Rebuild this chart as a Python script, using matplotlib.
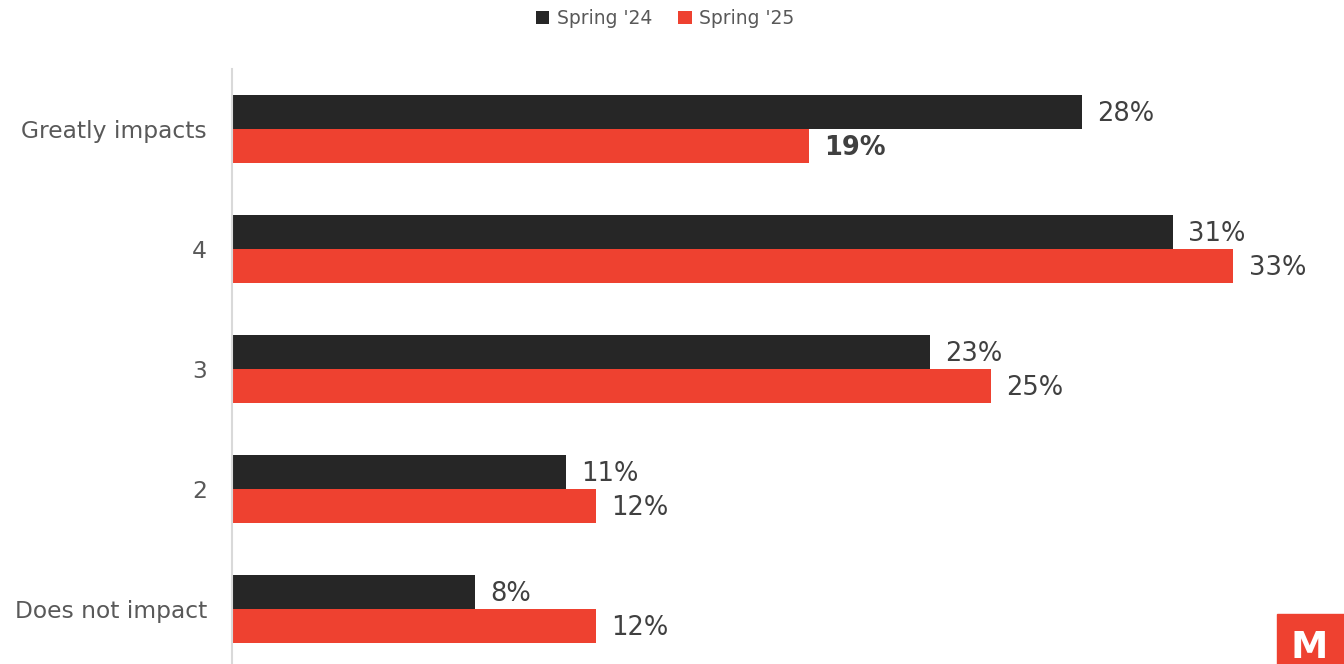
import matplotlib.pyplot as plt
import numpy as np
from matplotlib.patches import Rectangle

plt.rcParams['font.family'] = ['DejaVu Sans']

categories = ['Greatly impacts', '4', '3', '2', 'Does not impact']
spring_24 = [28, 31, 23, 11, 8]
spring_25 = [19, 33, 25, 12, 12]
series_names = ["Spring '24", "Spring '25"]

dark = '#262626'
red = '#EE4130'

fig = plt.figure(figsize=(13.44, 6.64), dpi=100)
ax = fig.add_axes([232 / 1344, -5 / 664, 1062 / 1344, 600 / 664])

y = np.arange(len(categories))
h = 0.283
b1 = ax.barh(y - h / 2, spring_24, height=h, color=dark, label=series_names[0])
b2 = ax.barh(y + h / 2, spring_25, height=h, color=red, label=series_names[1])

ax.set_ylim(len(categories) - 0.5, -0.5)
ax.set_xlim(0, 35)
ax.set_yticks(y)
ax.set_yticklabels(categories, fontsize=16.8, color='#595959')
ax.tick_params(axis='y', length=0, pad=18)
ax.set_xticks([])
for s in ['top', 'right', 'bottom']:
    ax.spines[s].set_visible(False)
ax.spines['left'].set_color('#D9D9D9')
ax.spines['left'].set_linewidth(1.5)

for bars, vals in [(b1, spring_24), (b2, spring_25)]:
    for i, (bar, v) in enumerate(zip(bars, vals)):
        # the first Spring '25 value is highlighted in bold
        bold = bars is b2 and i == 0
        ax.annotate(f'{v}%', (bar.get_width(), bar.get_y() + bar.get_height() / 2),
                    xytext=(11, -1.5), textcoords='offset points', va='center', ha='left',
                    fontsize=18.5, color='#404040',
                    fontweight='bold' if bold else 'normal')

fig.legend(loc='upper center', bbox_to_anchor=(0.495, 1.012), ncol=2, frameon=False,
           fontsize=13.5, labelcolor='#595959', handlelength=0.7, handleheight=0.7,
           handletextpad=0.4, columnspacing=1.4)

# logo in the corner
fig.patches.append(Rectangle((1277 / 1344, 0), 80 / 1344, 50 / 664,
                             transform=fig.transFigure, color=red, zorder=5))
fig.text(1290 / 1344, 6 / 664, 'M', transform=fig.transFigure,
         color='white', fontsize=27, fontweight='bold', ha='left', va='baseline', zorder=6)

fig.savefig('out.png', dpi=100)
